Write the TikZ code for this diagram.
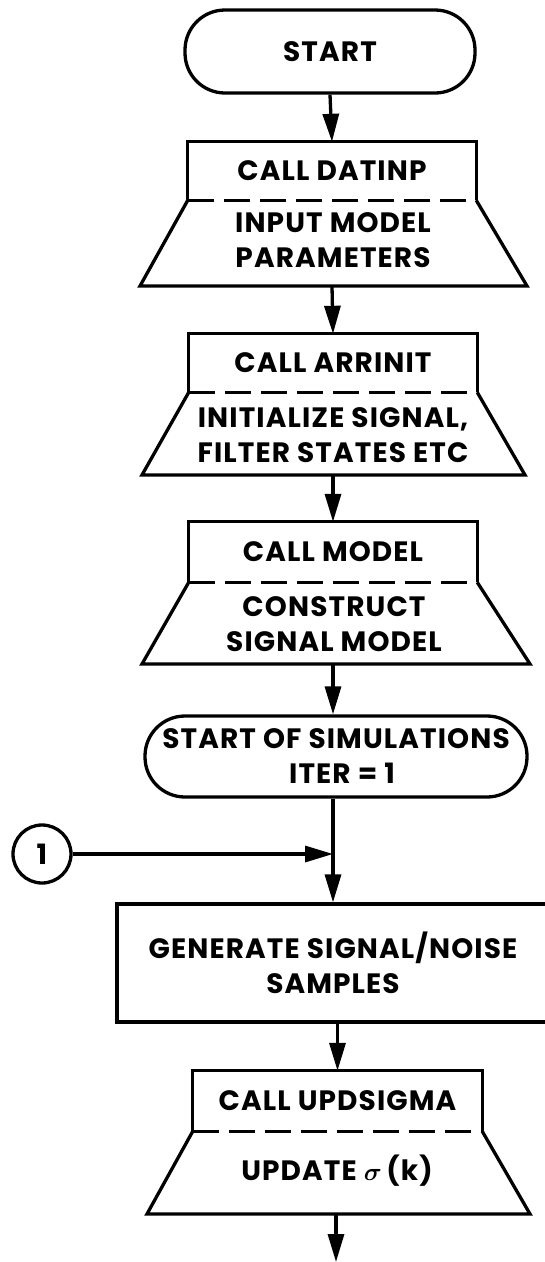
\documentclass[tikz,border=0pt]{standalone}
\usepackage{amsmath}
\usepackage{fontspec}
\setmainfont{Poppins}[LetterSpace=4]
\usetikzlibrary{arrows.meta}
\tikzset{
  ln/.style={line width=3.3pt, line join=miter},
  arr/.style={ln, -{Triangle[length=28pt,width=16pt]}},
  dsh/.style={ln, dash pattern=on 26pt off 10pt},
  fnt/.style={font=\bfseries\fontsize{28}{35}\selectfont},
  txt/.style={fnt, align=center, inner sep=0pt},
  upbox/.style={fnt, minimum width=288pt, minimum height=58pt, inner sep=0pt},
  term/.style={ln, draw, fnt, rounded corners=40pt, inner sep=0pt, align=center},
}
\begin{document}
\begin{tikzpicture}[x=1pt,y=-1pt]
\useasboundingbox (0,0) rectangle (545,1262);

% START
\node[term, minimum width=290pt, minimum height=83pt] (start) at (330,51.5) {START};

% CALL DATINP
\node[upbox] (datA) at (332,171) {CALL DATINP};
\coordinate (datBL) at (140,286);
\coordinate (datBR) at (527,286);
\coordinate (datBot) at (332,286);
\draw[ln] (datA.south west) -- (datA.north west) -- (datA.north east) -- (datA.south east);
\draw[dsh] (datA.south west) -- (datA.south east);
\draw[ln] (datA.south west) -- (datBL) -- (datBR) -- (datA.south east);
\node[txt] (datB) at (333,240) {INPUT MODEL\\PARAMETERS};

% CALL ARRINIT
\node[upbox] (arrA) at (333,363) {CALL ARRINIT};
\coordinate (arrBL) at (142,475);
\coordinate (arrBR) at (525,475);
\coordinate (arrBot) at (333,475);
\draw[ln] (arrA.south west) -- (arrA.north west) -- (arrA.north east) -- (arrA.south east);
\draw[dsh] (arrA.south west) -- (arrA.south east);
\draw[ln] (arrA.south west) -- (arrBL) -- (arrBR) -- (arrA.south east);
\node[txt] (arrB) at (333,435) {INITIALIZE SIGNAL,\\FILTER STATES ETC};

% CALL MODEL
\node[upbox, minimum height=60pt] (modA) at (333,552) {CALL MODEL};
\coordinate (modBL) at (142,664);
\coordinate (modBR) at (530,664);
\coordinate (modBot) at (333,664);
\draw[ln] (modA.south west) -- (modA.north west) -- (modA.north east) -- (modA.south east);
\draw[dsh] (modA.south west) -- (modA.south east);
\draw[ln] (modA.south west) -- (modBL) -- (modBR) -- (modA.south east);
\node[txt] (modB) at (334,624) {CONSTRUCT\\SIGNAL MODEL};

% START OF SIMULATIONS
\node[term, minimum width=382pt, minimum height=81pt] (sim) at (336,756.5) {START OF SIMULATIONS\\\hspace*{12pt}ITER = 1};

% connector 1
\node[ln, draw, circle, fnt, minimum size=58pt, inner sep=0pt] (c1) at (42,854) {1};
\coordinate (j) at (333,854);

% GENERATE
\node[ln, draw, fnt, minimum width=432pt, minimum height=118pt, inner sep=0pt, align=center] (gen) at (333,963) {GENERATE SIGNAL/NOISE\\SAMPLES};

% CALL UPDSIGMA
\node[upbox, minimum width=289pt, minimum height=60pt] (updA) at (337.5,1101) {CALL UPDSIGMA};
\coordinate (updBL) at (147,1214);
\coordinate (updBR) at (530,1214);
\coordinate (updBot) at (336,1214);
\draw[ln] (updA.south west) -- (updA.north west) -- (updA.north east) -- (updA.south east);
\draw[dsh] (updA.south west) -- (updA.south east);
\draw[ln] (updA.south west) -- (updBL) -- (updBR) -- (updA.south east);
\node[txt] (updB) at (337,1171) {UPDATE \(\boldsymbol{\sigma}\)\,(k)};
\coordinate (endpt) at (336,1262);

% connectors
\draw[arr] (start.south) -- (datA.north);
\draw[arr] (datBot) -- (arrA.north);
\draw[arr] (arrBot) -- (modA.north);
\draw[arr] (modBot) -- (modBot |- sim.north);
\draw[arr] (sim.south -| j) -- (j |- gen.north);
\draw[arr] (c1.east) -- (j);
\draw[arr] (gen.south -| updA.north) -- (updA.north);
\draw[arr] (updBot) -- (endpt);
\end{tikzpicture}
\end{document}
